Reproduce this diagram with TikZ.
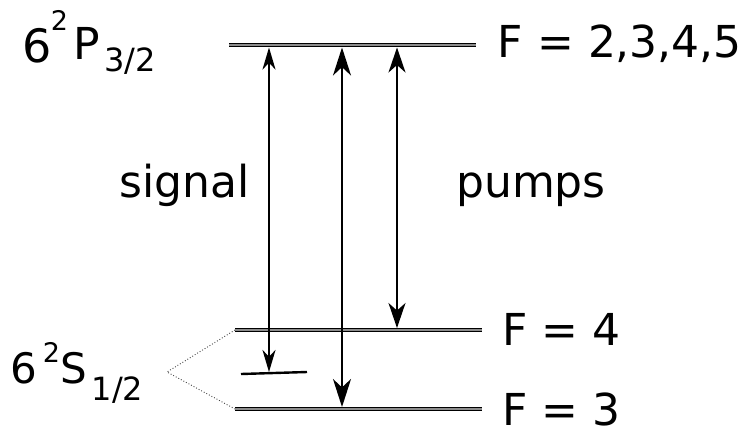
\documentclass[tikz,border=0pt]{standalone}
\usepackage{fontspec}
\setmainfont{DejaVu Sans}
\usetikzlibrary{arrows.meta}
\newcommand{\fsz}[1]{\fontsize{#1}{#1}\selectfont}

\begin{document}
\begin{tikzpicture}[x=1pt, y=-1pt,
  level/.style={line width=1pt, double=black!45, double distance=2.4pt},
  offres/.style={line width=2.4pt},
  fine/.style={dotted, black!75, line width=0.9pt},
  lbl/.style={inner sep=0pt, anchor=base west, font=\fsz{44}},
  trans/.style 2 args={line width=1.8pt,
    {Stealth[length=#1, width=#2, inset=0.3*#1]}-{Stealth[length=#1, width=#2, inset=0.3*#1]}}]
  \useasboundingbox (0,0) rectangle (753,432);

  % ---- the three levels and the short off-resonant mark -------------------
  \coordinate (P32-w) at (229,45);  \coordinate (P32-e) at (476,45);
  \coordinate (F4-w)  at (235,330); \coordinate (F4-e)  at (482,330);
  \coordinate (F3-w)  at (235,409); \coordinate (F3-e)  at (482,409);
  \coordinate (off-w) at (241,374); \coordinate (off-e) at (307,372);
  \draw[level] (P32-w) -- (P32-e);
  \draw[level] (F4-w) -- (F4-e);
  \draw[level] (F3-w) -- (F3-e);
  \draw[offres] (off-w) -- (off-e);

  % ---- dotted bracket from the ground-state label --------------------------
  \coordinate (apex) at (167,372);
  \draw[fine] (F4-w) -- (apex) -- (F3-w);

  % ---- transitions: name / x / lower tip / head length / head width --------
  \foreach \nm/\xx/\ybot/\hl/\hw in {sig/269/372/22pt/13pt,
      mid/342/407/28pt/18pt, pmp/397/328/25pt/17pt}{
    \coordinate (\nm-top) at (\xx,47.5);
    \coordinate (\nm-bot) at (\xx,\ybot);
    \draw[trans={\hl}{\hw}] (\nm-top) -- (\nm-bot);
  }

  % ---- labels ---------------------------------------------------------------
  \node[lbl] (Ftop) at (497.7,57) {F = 2,3,4,5};
  \node[lbl] (F4lbl) at (502.5,345) {F = 4};
  \node[lbl] (F3lbl) at (502.5,425) {F = 3};
  \node[lbl] (siglbl) at (119.6,197) {signal};
  \node[lbl] (pmplbl) at (456,197) {pumps};
  \node[inner sep=0pt, anchor=base west] (P32lbl) at (21.8,62)
    {{\fsz{46}6}\hspace{-0.5pt}\raisebox{32pt}{\fsz{27}2}\hspace{6pt}\raisebox{3pt}{\fsz{44}P}\hspace{3.6pt}\raisebox{-9pt}{\fsz{32}3/2}};
  \node[inner sep=0pt, anchor=base west] (S12lbl) at (10.1,383)
    {{\fsz{42}6}\hspace{5.8pt}\raisebox{21pt}{\fsz{27}2}\hspace{0.4pt}{\fsz{42}S}\hspace{4.6pt}\raisebox{-17pt}{\fsz{32}1/2}};
\end{tikzpicture}
\end{document}
